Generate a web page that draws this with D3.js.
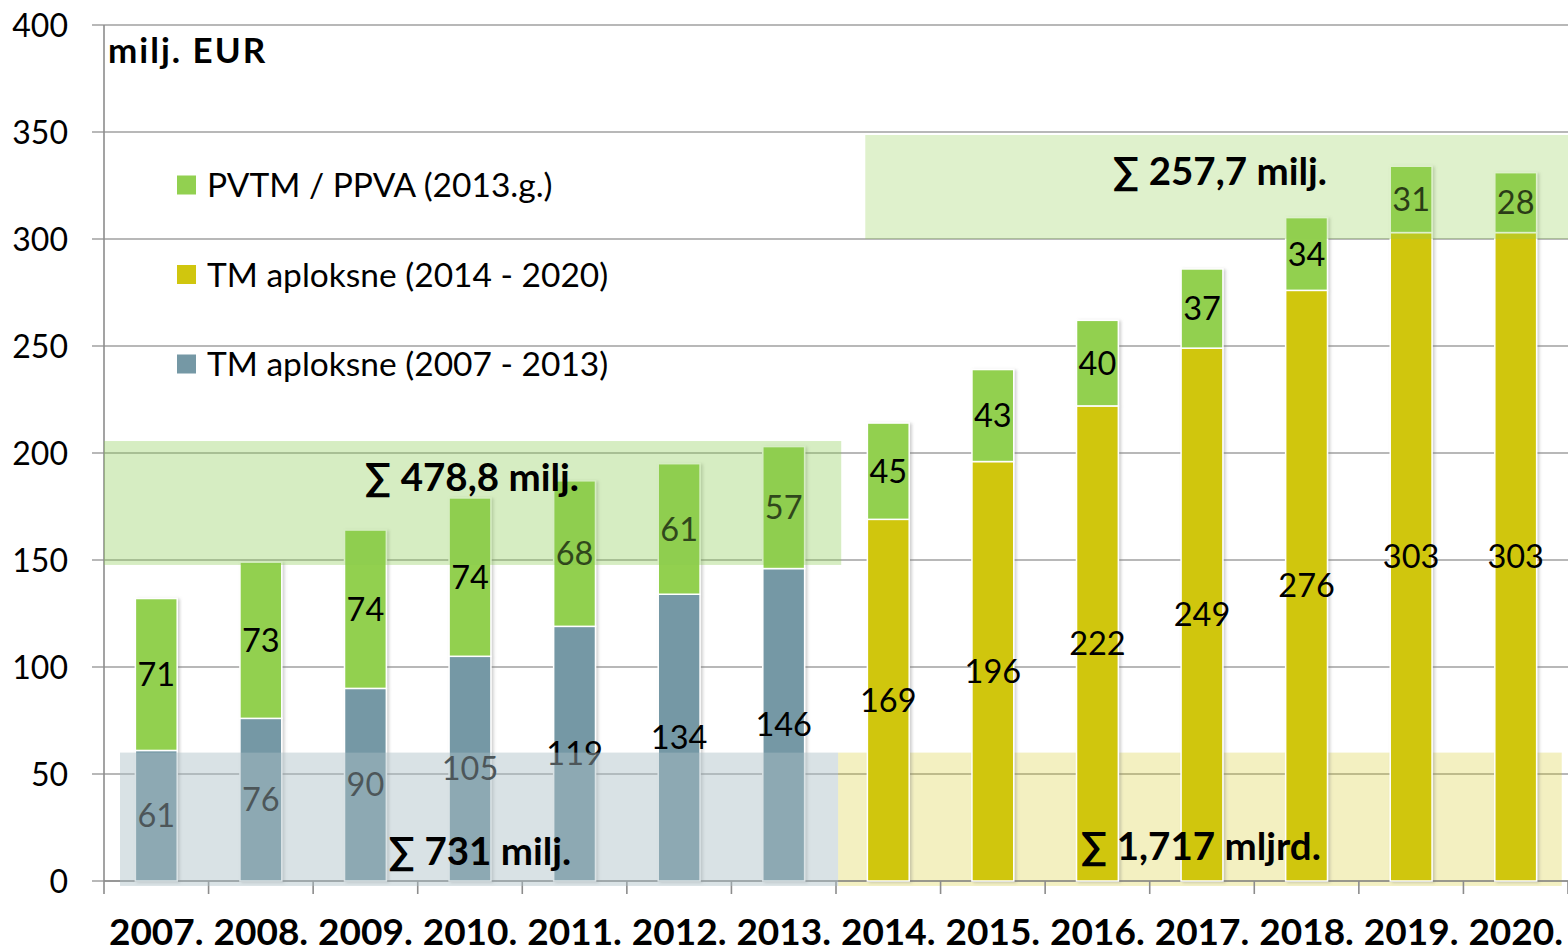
<!DOCTYPE html>
<html>
<head>
<meta charset="utf-8">
<script src="https://cdn.jsdelivr.net/npm/d3@7"></script>
<style>
  html, body { margin: 0; padding: 0; background: #fff; }
  svg { display: block; font-family: Lato, "Open Sans", sans-serif; }
</style>
</head>
<body>
<svg id="chart" width="1568" height="952"></svg>
<script>
// ---- data ----
const years = ["2007.", "2008.", "2009.", "2010.", "2011.", "2012.", "2013.", "2014.", "2015.", "2016.", "2017.", "2018.", "2019.", "2020."];
const tmOld = [61, 76, 90, 105, 119, 134, 146, 0, 0, 0, 0, 0, 0, 0];        // TM aploksne (2007 - 2013)
const tmNew = [0, 0, 0, 0, 0, 0, 0, 169, 196, 222, 249, 276, 303, 303];     // TM aploksne (2014 - 2020)
const pvtm  = [71, 73, 74, 74, 68, 61, 57, 45, 43, 40, 37, 34, 31, 28];     // PVTM / PPVA (2013.g.)
const yTicks = [0, 50, 100, 150, 200, 250, 300, 350, 400];
const seriesNames = ["PVTM / PPVA (2013.g.)", "TM aploksne (2014 - 2020)", "TM aploksne (2007 - 2013)"];
const sumLabels = ["∑ 478,8 milj.", "∑ 257,7 milj.", "∑ 731 milj.", "∑ 1,717 mljrd."];

const colors = { pvtm: "#92D050", tmNew: "#D0C60E", tmOld: "#7598A5" };

(function () {
const svg = d3.select("#chart");
const mL = 104, mR = 1568, mT = 25, mB = 881;

const x = d3.scaleBand().domain(years).range([mL, mR]).paddingInner(0.6).paddingOuter(0.3);
const y = d3.scaleLinear().domain([0, 400]).range([mB, mT]);
const xu = u => mL + u * x.step();

const defs = svg.append("defs");
const f = defs.append("filter").attr("id", "shadow").attr("x", "-20%").attr("y", "-5%").attr("width", "150%").attr("height", "115%");
f.append("feDropShadow").attr("dx", 2).attr("dy", 1).attr("stdDeviation", 1.5).attr("flood-color", "#777").attr("flood-opacity", 0.35);

// gridlines
svg.append("g").selectAll("line").data(yTicks).join("line")
  .attr("x1", mL - 12).attr("x2", mR)
  .attr("y1", d => y(d)).attr("y2", d => y(d))
  .attr("stroke", "#A0A0A0").attr("stroke-width", 1.6);

// y tick labels
svg.append("g").selectAll("text").data(yTicks).join("text")
  .attr("x", 68).attr("y", d => y(d)).attr("dy", "0.36em")
  .attr("text-anchor", "end").attr("font-size", 32).attr("fill", "#000")
  .text(d => d);

// y axis line
svg.append("line").attr("x1", mL).attr("x2", mL).attr("y1", mT).attr("y2", mB)
  .attr("stroke", "#8C8C8C").attr("stroke-width", 1.6);

// yellow overlay (behind bars)
svg.append("rect")
  .attr("x", xu(7.02)).attr("width", xu(13.94) - xu(7.02))
  .attr("y", y(60)).attr("height", y(-2.3) - y(60))
  .attr("fill", "rgba(208,198,14,0.26)");

// x axis line + ticks
svg.append("line").attr("x1", mL).attr("x2", mR).attr("y1", mB).attr("y2", mB)
  .attr("stroke", "#8C8C8C").attr("stroke-width", 1.6);
svg.append("g").selectAll("line").data(d3.range(years.length + 1)).join("line")
  .attr("x1", d => xu(d)).attr("x2", d => xu(d))
  .attr("y1", mB).attr("y2", mB + 13)
  .attr("stroke", "#8C8C8C").attr("stroke-width", 1.6);

// stacked bars
const rows = years.map((yr, i) => ({ yr, base: tmOld[i] || tmNew[i], baseColor: tmOld[i] ? colors.tmOld : colors.tmNew, add: pvtm[i] }));
const gBars = svg.append("g");
rows.forEach(r => {
  const g = gBars.append("g").attr("filter", "url(#shadow)");
  g.append("rect").attr("x", x(r.yr)).attr("width", x.bandwidth())
    .attr("y", y(r.base)).attr("height", y(0) - y(r.base))
    .attr("fill", r.baseColor).attr("stroke", "#fff").attr("stroke-width", 1.5);
  g.append("rect").attr("x", x(r.yr)).attr("width", x.bandwidth())
    .attr("y", y(r.base + r.add)).attr("height", y(r.base) - y(r.base + r.add))
    .attr("fill", colors.pvtm).attr("stroke", "#fff").attr("stroke-width", 1.5);
});

// value labels
const gLab = svg.append("g").attr("font-size", 32.5).attr("text-anchor", "middle").attr("fill", "#000");
rows.forEach(r => {
  gLab.append("text").attr("x", x(r.yr) + x.bandwidth() / 2).attr("y", y(r.base / 2)).attr("dy", "0.36em").text(r.base);
  gLab.append("text").attr("x", x(r.yr) + x.bandwidth() / 2).attr("y", y(r.base + r.add / 2)).attr("dy", "0.36em").text(r.add);
});

// overlays on top
svg.append("rect")
  .attr("x", xu(0.153)).attr("width", xu(7.02) - xu(0.153))
  .attr("y", y(60)).attr("height", y(-2.3) - y(60))
  .attr("fill", "rgba(170,190,198,0.45)");
svg.append("rect")
  .attr("x", xu(0)).attr("width", xu(7.05) - xu(0))
  .attr("y", y(205.6)).attr("height", y(147.7) - y(205.6))
  .attr("fill", "rgba(138,203,81,0.35)");
svg.append("rect")
  .attr("x", xu(7.28)).attr("width", xu(14) - xu(7.28))
  .attr("y", y(348.6)).attr("height", y(300) - y(348.6))
  .attr("fill", "rgba(146,208,80,0.29)");

// x labels
svg.append("g").selectAll("text").data(years).join("text")
  .attr("x", d => x(d) + x.bandwidth() / 2).attr("y", 945)
  .attr("text-anchor", "middle").attr("font-size", 37).attr("font-weight", 700)
  .text(d => d);

// unit label
svg.append("text").attr("x", 108).attr("y", 63).attr("font-size", 35).attr("font-weight", 700)
  .attr("letter-spacing", 2).text("milj. EUR");

// sum labels
const sumPos = [[472, 491], [1220, 185], [480, 865], [1201, 860]];
svg.append("g").selectAll("text").data(sumLabels).join("text")
  .attr("x", (d, i) => sumPos[i][0]).attr("y", (d, i) => sumPos[i][1])
  .attr("text-anchor", "middle").attr("font-size", 38.5).attr("font-weight", 700)
  .text(d => d);

// legend
const legColors = [colors.pvtm, colors.tmNew, colors.tmOld];
const leg = svg.append("g");
seriesNames.forEach((n, i) => {
  const cy = 185 + i * 89.5;
  leg.append("rect").attr("x", 177).attr("y", cy - 9.5).attr("width", 19).attr("height", 19).attr("fill", legColors[i]);
  leg.append("text").attr("x", 207).attr("y", cy).attr("dy", "0.36em").attr("font-size", 33.5).text(n);
});
})();
</script>
</body>
</html>
